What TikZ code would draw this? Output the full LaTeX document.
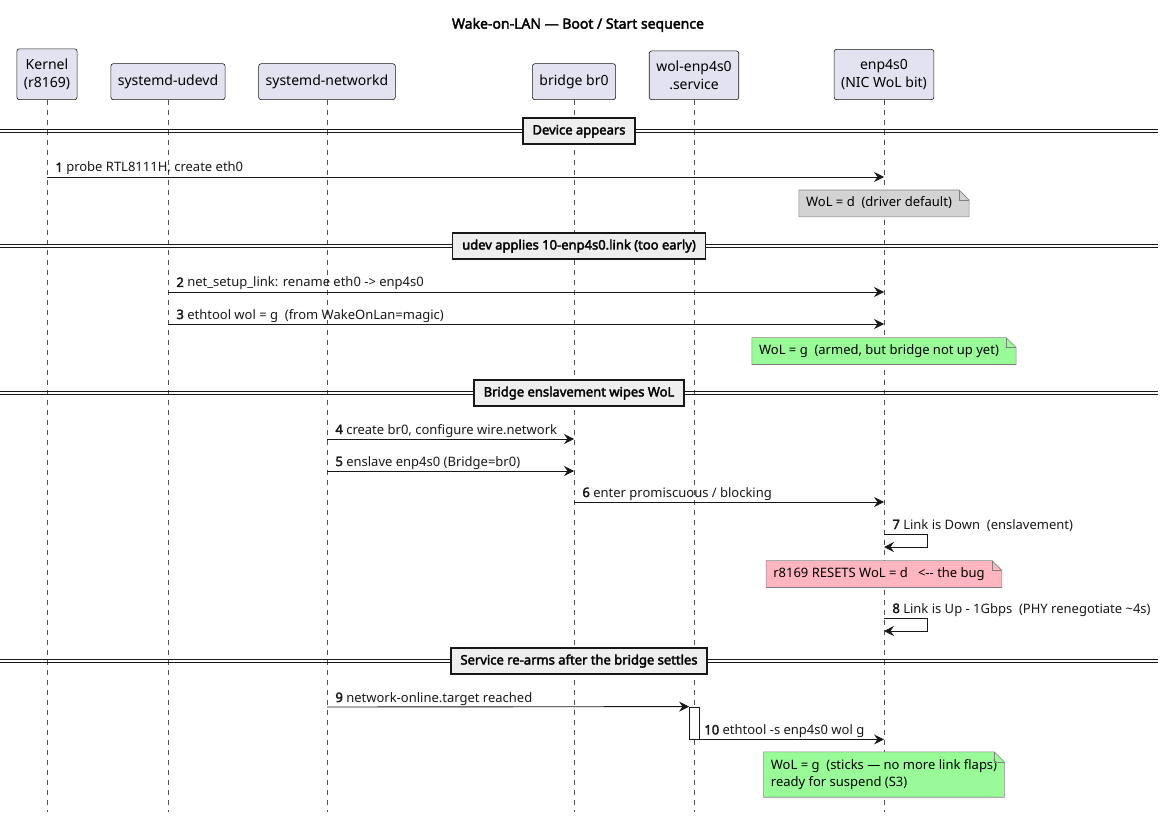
\documentclass[tikz,border=0pt]{standalone}
\usepackage{fontspec}
\setmainfont{Noto Sans}[AutoFakeBold=2.5]
\usetikzlibrary{arrows.meta}

\definecolor{partfill}{HTML}{E2E2F0}
\definecolor{ink}{HTML}{181818}
\definecolor{divfill}{HTML}{EEEEEE}
\definecolor{notegray}{HTML}{D3D3D3}
\definecolor{notegreen}{HTML}{98FB98}
\definecolor{notepink}{HTML}{FFB6C1}

\tikzset{
  part/.style={anchor=south, draw=ink, fill=partfill, line width=0.6pt,
    rounded corners=2.5pt, align=center, inner xsep=7pt, inner ysep=10pt,
    minimum height=36pt, font=\fontsize{14}{18}\selectfont},
  lifeline/.style={ink!75, line width=0.5pt, dash pattern=on 5pt off 5pt},
  msg/.style={ink, line width=0.9pt, -{Stealth[length=10pt,width=10pt,inset=3.5pt]}},
  lbl/.style={anchor=base west, inner sep=0pt, xshift=8pt, yshift=5pt,
    font=\fontsize{13}{15}\selectfont},
  divline/.style={ink, line width=0.8pt},
  divbox/.style={draw=ink, fill=divfill, line width=1.6pt, inner xsep=9.5pt,
    inner ysep=6.5pt, text height=10pt, text depth=3pt,
    font=\bfseries\fontsize{13}{15}\selectfont},
  note/.style={inner xsep=7pt, inner ysep=6.5pt, align=left,
    font=\fontsize{13}{17}\selectfont},
  notebd/.style={draw=ink!55, line width=0.6pt},
  actbar/.style={draw=ink, fill=white, line width=0.8pt, minimum width=10pt,
    inner sep=0pt}
}

% folded corner outline round a note node
\newcommand\dogear[1]{
  \fill[white] ([xshift=-10pt]#1.north east) -- (#1.north east) -- ([yshift=-10pt]#1.north east) -- cycle;
  \draw[notebd] (#1.north west) -- ([xshift=-10pt]#1.north east) -- ([yshift=-10pt]#1.north east)
    -- (#1.south east) -- (#1.south west) -- cycle;
  \draw[notebd] ([xshift=-10pt]#1.north east) |- ([yshift=-10pt]#1.north east);
}

\begin{document}
\begin{tikzpicture}[x=1pt, y=-1pt]
  \useasboundingbox (0,0) rectangle (1164,818);

  % Title
  \node[font=\bfseries\fontsize{14}{16}\selectfont] (title) at (578,25) {Wake-on-LAN — Boot / Start sequence};

  % Participants
  \node[part] (kern) at (47,100)  {Kernel\\(r8169)};
  \node[part] (udev) at (168,100) {systemd-udevd};
  \node[part] (netd) at (327,100) {systemd-networkd};
  \node[part] (br)   at (574,100) {bridge br0};
  \node[part] (wol)  at (694,100) {wol-enp4s0\\.service};
  \node[part] (nic)  at (884,100) {enp4s0\\(NIC WoL bit)};

  % Lifelines
  \foreach \p in {kern,udev,netd,br,wol,nic}
    \draw[lifeline] (\p.south) -- (\p |- 0,812);

  % Dividers
  \foreach \y/\name/\txt in {131/dev/Device appears,
      246/udv/udev applies 10-enp4s0.link (too early),
      393/brg/Bridge enslavement wipes WoL,
      661/svc/Service re-arms after the bridge settles} {
    \draw[divline] (0,\y-1.5) -- (1158,\y-1.5);
    \draw[divline] (0,\y+1.5) -- (1158,\y+1.5);
    \node[divbox] (\name) at (579,\y) {\txt};
  }

  % Device appears
  \draw[msg] (kern |- 0,177) -- (nic |- 0,177)
    node[pos=0, lbl] {\textbf{1} probe RTL8111H, create eth0};
  \node[note, fill=notegray, text height=10pt, text depth=3.5pt]
    (wold) at (nic |- 0,203.5) {WoL = d\ \ (driver default)\hspace{10pt}};
  \dogear{wold}

  % udev link file
  \draw[msg] (udev |- 0,292) -- (nic |- 0,292)
    node[pos=0, lbl] {\textbf{2} net\_setup\_link: rename eth0 -> enp4s0};
  \draw[msg] (udev |- 0,324) -- (nic |- 0,324)
    node[pos=0, lbl] {\textbf{3} ethtool wol = g\ \ (from WakeOnLan=magic)};
  \node[note, fill=notegreen, text height=10pt, text depth=3.5pt]
    (wolg) at (nic |- 0,351) {WoL = g\ \ (armed, but bridge not up yet)\hspace{10pt}};
  \dogear{wolg}

  % Bridge enslavement
  \draw[msg] (netd |- 0,439) -- (br |- 0,439)
    node[pos=0, lbl] {\textbf{4} create br0, configure wire.network};
  \draw[msg] (netd |- 0,471) -- (br |- 0,471)
    node[pos=0, lbl] {\textbf{5} enslave enp4s0 (Bridge=br0)};
  \draw[msg] (br |- 0,502) -- (nic |- 0,502)
    node[pos=0, lbl] {\textbf{6} enter promiscuous / blocking};
  \draw[msg] (nic |- 0,534) node[lbl] {\textbf{7} Link is Down\ \ (enslavement)}
    -- ++(43,0) -- ++(0,13) -- (nic |- 0,547);
  \node[note, fill=notepink, text height=10pt, text depth=3.5pt]
    (bug) at (nic |- 0,574) {r8169 RESETS WoL = d\ \ \ <-{}- the bug\hspace{10pt}};
  \dogear{bug}
  \draw[msg] (nic |- 0,618) node[lbl] {\textbf{8} Link is Up - 1Gbps\ \ (PHY renegotiate \textasciitilde 4s)}
    -- ++(43,0) -- ++(0,13) -- (nic |- 0,631);

  % Service re-arms
  \node[actbar, minimum height=32pt] (act) at (694.5,723) {};
  \draw[msg] (netd |- 0,707) -- (act.north west)
    node[pos=0, lbl] {\textbf{9} network-online.target reached};
  \draw[msg] (act.south east) -- (nic |- act.south)
    node[pos=0, lbl, xshift=-4pt] {\textbf{10} ethtool -s enp4s0 wol g};
  \node[note, fill=notegreen, minimum height=45pt]
    (sticks) at (nic |- 0,774.5) {WoL = g\ \ (sticks — no more link flaps)\hspace{10pt}\\ready for suspend (S3)};
  \dogear{sticks}

\end{tikzpicture}
\end{document}
